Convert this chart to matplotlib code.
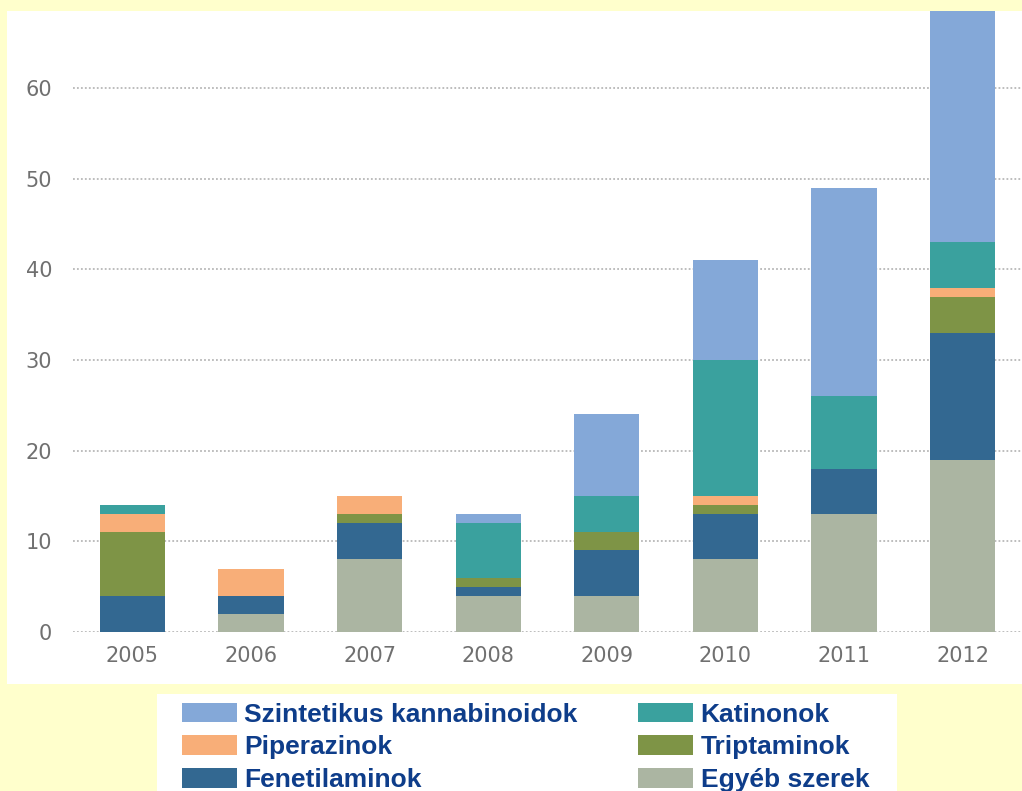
import matplotlib
matplotlib.use("Agg")
import matplotlib.pyplot as plt
from matplotlib.patches import Rectangle
import numpy as np

years = ['2005', '2006', '2007', '2008', '2009', '2010', '2011', '2012']

# stacked from the bottom up
egyeb = [0, 2, 8, 4, 4, 8, 13, 19]
fenetilaminok = [4, 2, 4, 1, 5, 5, 5, 14]
triptaminok = [7, 0, 1, 1, 2, 1, 0, 4]
piperazinok = [2, 3, 2, 0, 0, 1, 0, 1]
katinonok = [1, 0, 0, 6, 4, 15, 8, 5]
szintetikus = [0, 0, 0, 1, 9, 11, 23, 30]

series = [
    ('Egyéb szerek', egyeb, '#abb5a2'),
    ('Fenetilaminok', fenetilaminok, '#336891'),
    ('Triptaminok', triptaminok, '#7e9446'),
    ('Piperazinok', piperazinok, '#f8ae78'),
    ('Katinonok', katinonok, '#3aa19e'),
    ('Szintetikus kannabinoidok', szintetikus, '#84a8d8'),
]

W, H = 1022, 791
fig = plt.figure(figsize=(W / 100, H / 100), dpi=100, facecolor='#ffffcc')

# white panels behind the chart and the legend
fig.patches.append(Rectangle((7 / W, (H - 684) / H), (W - 7) / W, (684 - 11) / H,
                             transform=fig.transFigure, facecolor='white',
                             edgecolor='none', zorder=-2))
fig.patches.append(Rectangle((157 / W, 0), (897 - 157) / W, (H - 694) / H,
                             transform=fig.transFigure, facecolor='white',
                             edgecolor='none', zorder=-2))

ax = fig.add_axes([73 / W, (H - 632) / H, (W - 73) / W, (632 - 11) / H])
ax.set_facecolor('none')
ax.set_zorder(1)

x = np.arange(len(years))
bottom = np.zeros(len(years))
handles = {}
for name, vals, col in series:
    vals = np.array(vals, dtype=float)
    b = ax.bar(x, vals, 0.55, bottom=bottom, color=col, zorder=3, label=name)
    handles[name] = b
    bottom += vals

ax.set_xlim(-0.5, 7.5)
ax.set_ylim(0, 68.5)
ax.set_yticks(range(0, 70, 10))
ax.set_xticks(x)
ax.set_xticklabels(years)
ax.tick_params(length=0, labelsize=15, labelcolor='#707070')
ax.tick_params(axis='y', pad=15)
ax.tick_params(axis='x', pad=10)
ax.yaxis.grid(True, linestyle=(0, (1, 1.2)), color='#b8b8b8', linewidth=1.3, zorder=0)
for s in ax.spines.values():
    s.set_visible(False)

order = ['Szintetikus kannabinoidok', 'Piperazinok', 'Fenetilaminok',
         'Katinonok', 'Triptaminok', 'Egyéb szerek']
leg = fig.legend([handles[n] for n in order], order, ncol=2,
                 loc='upper left', bbox_to_anchor=(179 / W, (H - 700) / H),
                 frameon=False, handlelength=2.08, handleheight=0.75,
                 handletextpad=0.3, columnspacing=2.27, labelspacing=0.33,
                 borderaxespad=0, borderpad=0.1,
                 prop={'family': ['Liberation Sans', 'DejaVu Sans'],
                       'weight': 'bold', 'size': 19})
for t in leg.get_texts():
    t.set_color('#0e3d8a')

fig.savefig('out.png', dpi=100, facecolor=fig.get_facecolor())
